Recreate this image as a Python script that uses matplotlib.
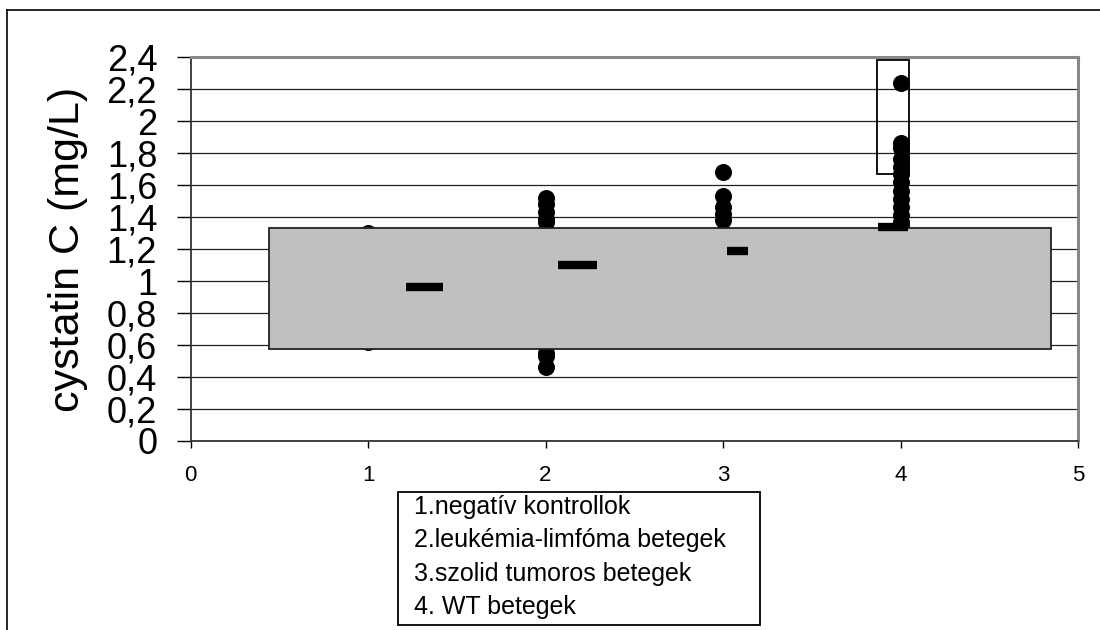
import numpy as np
import matplotlib
matplotlib.use('Agg')
import matplotlib.pyplot as plt
from matplotlib.patches import Rectangle
from matplotlib.lines import Line2D

plt.rcParams['font.family'] = ['Liberation Sans', 'DejaVu Sans']

# cystatin C values per group (mg/L)
g1 = [1.30, 1.22, 1.15, 1.08, 1.02, 0.97, 0.93, 0.88, 0.82, 0.76, 0.70, 0.62]
g2 = [1.52, 1.48, 1.43, 1.39, 1.37, 1.25, 1.12, 1.05, 0.98, 0.90, 0.80, 0.70, 0.55, 0.53, 0.46]
g3 = [1.68, 1.53, 1.46, 1.42, 1.38, 1.30, 1.20, 1.10, 1.02, 0.95]
g4 = [2.24, 1.86, 1.83, 1.76, 1.71, 1.67, 1.62, 1.56, 1.51, 1.46, 1.41, 1.37, 1.35]
groups = [g1, g2, g3, g4]

# group means (drawn as short bars beside each column)
mean_x = [1.32, 2.18, 3.08, 3.96]
mean_y = [0.96, 1.10, 1.19, 1.34]
mean_w = [0.21, 0.22, 0.12, 0.17]

# normal range and WT outlier box
ref_low, ref_high = 0.575, 1.33
wt_low, wt_high = 1.67, 2.38

yticks = np.arange(0, 2.41, 0.2)
ylabels = ['0', '0,2', '0,4', '0,6', '0,8', '1', '1,2', '1,4', '1,6', '1,8', '2', '2,2', '2,4']
legend_lines = ['1.negatív kontrollok', '2.leukémia-limfóma betegek',
                '3.szolid tumoros betegek', '4. WT betegek']

fig = plt.figure(figsize=(11, 6.3), dpi=100)
ax = fig.add_axes([0.1732, 0.3, 0.8068, 0.6095])

for i, g in enumerate(groups):
    ax.scatter([i + 1] * len(g), g, s=150, color='black', zorder=2, linewidths=0)

ax.add_patch(Rectangle((0.44, ref_low), 4.85 - 0.44, ref_high - ref_low,
                       facecolor='#c0c0c0', edgecolor='#222222', lw=1.3, zorder=3))
ax.add_patch(Rectangle((3.87, wt_low), 0.18, wt_high - wt_low,
                       facecolor='none', edgecolor='black', lw=1.3, zorder=4))

for x, y, w in zip(mean_x, mean_y, mean_w):
    ax.plot([x - w / 2, x + w / 2], [y, y], color='black', lw=6, solid_capstyle='butt', zorder=5)

ax.set_xlim(0, 5)
ax.set_ylim(0, 2.4)
ax.set_xticks(range(6))
ax.set_yticks(yticks)
ax.set_yticklabels(ylabels)
ax.tick_params(axis='y', labelsize=26, length=10, width=1, direction='out', pad=14)
ax.tick_params(axis='x', labelsize=16, length=5, width=1, direction='out', pad=12)
ax.set_ylabel('cystatin C (mg/L)', fontsize=31)
ax.yaxis.label.set_va('center')
ax.yaxis.set_label_coords(-0.138, 0.5)

ax.grid(axis='y', color='#222222', lw=0.9, zorder=0)
ax.set_axisbelow(True)
for s in ['left', 'bottom']:
    ax.spines[s].set_color('#333333')
    ax.spines[s].set_linewidth(1.3)
for s in ['top', 'right']:
    ax.spines[s].set_color('#888888')
    ax.spines[s].set_linewidth(2.2)

# outer frame (top and left)
W, H = 1100, 630
fig.add_artist(Line2D([7 / W, 7 / W], [0, 1 - 10 / H], color='black', lw=1.2))
fig.add_artist(Line2D([7 / W, 1], [1 - 10 / H, 1 - 10 / H], color='black', lw=1.2))

# legend box
fig.add_artist(Rectangle((398 / W, 1 - 625 / H), (760 - 398) / W, (625 - 492) / H,
                         transform=fig.transFigure, facecolor='white', edgecolor='black', lw=1.3))
for k, t in enumerate(legend_lines):
    fig.text(414 / W, 1 - (507 + 33.3 * k) / H, t, fontsize=18, va='center', ha='left')

fig.savefig('out.png', dpi=100)
